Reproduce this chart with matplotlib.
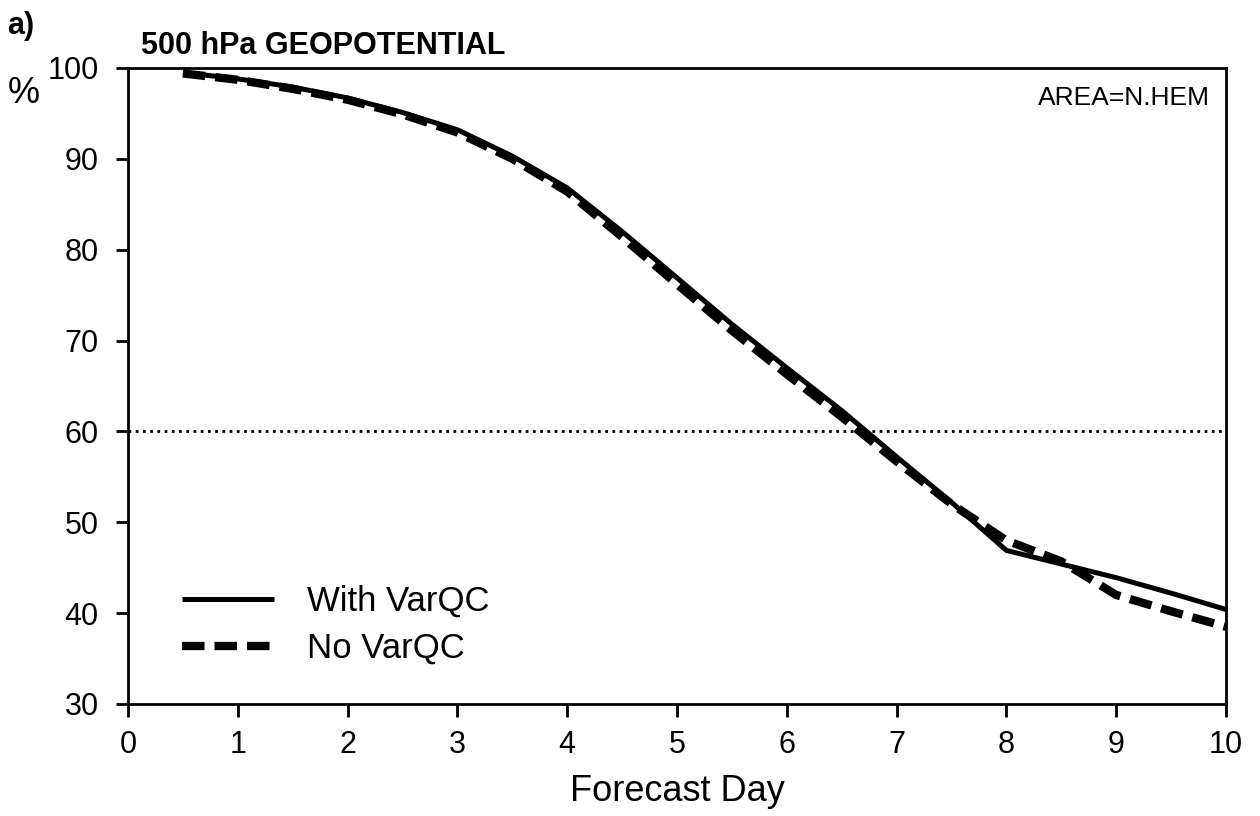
import matplotlib
matplotlib.use("Agg")
import matplotlib.pyplot as plt

plt.rcParams['font.family'] = ['Liberation Sans', 'DejaVu Sans']

days = [0.5, 1, 1.5, 2, 2.5, 3, 3.5, 4, 4.5, 5, 5.5, 6, 6.5, 7, 7.5, 8, 8.5, 9, 9.5, 10]
with_varqc = [99.5, 98.8, 97.9, 96.7, 95.1, 93.2, 90.3, 86.8, 82.0, 76.9, 71.8, 67.0, 62.3, 57.2, 52.2, 46.9, 45.4, 43.9, 42.2, 40.4]
no_varqc = [99.4, 98.7, 97.7, 96.5, 94.9, 92.9, 90.0, 86.4, 81.4, 76.2, 71.1, 66.3, 61.6, 56.7, 52.0, 48.0, 45.7, 42.0, 40.2, 38.5]

xticks = list(range(0, 11))
yticks = [30, 40, 50, 60, 70, 80, 90, 100]
ref_level = 60

fig = plt.figure(figsize=(12.6, 8.16), dpi=100)
ax = fig.add_axes([0.1016, 0.1373, 0.8714, 0.7794])

ax.plot(days, with_varqc, color='black', lw=3.6, solid_capstyle='butt', label='With VarQC')
ax.plot(days, no_varqc, color='black', lw=6, dashes=(2.7, 1.2), label='No VarQC')
ax.axhline(ref_level, color='black', lw=2, ls=(0, (1, 1.6)))

ax.set_xlim(0, 10)
ax.set_ylim(30, 100)
ax.set_xticks(xticks)
ax.set_yticks(yticks)
ax.tick_params(axis='both', direction='out', length=9, width=2, labelsize=22)
ax.tick_params(axis='x', pad=10)
ax.tick_params(axis='y', pad=12)
for s in ax.spines.values():
    s.set_linewidth(2)

ax.set_xlabel('Forecast Day', fontsize=26, labelpad=10)
fig.text(0.006, 0.968, 'a)', fontsize=22, fontweight='bold', ha='left', va='center')
fig.text(0.112, 0.944, '500 hPa GEOPOTENTIAL', fontsize=22, fontweight='bold', ha='left', va='center')
fig.text(0.006, 0.886, '%', fontsize=26, ha='left', va='center')
ax.text(0.985, 0.953, 'AREA=N.HEM', transform=ax.transAxes, fontsize=19, ha='right', va='center')

leg = ax.legend(loc='lower left', bbox_to_anchor=(0.021, 0.012), frameon=False, fontsize=25,
                handlelength=2.65, handletextpad=0.95, labelspacing=0.4)

fig.savefig('out.png', dpi=100)
